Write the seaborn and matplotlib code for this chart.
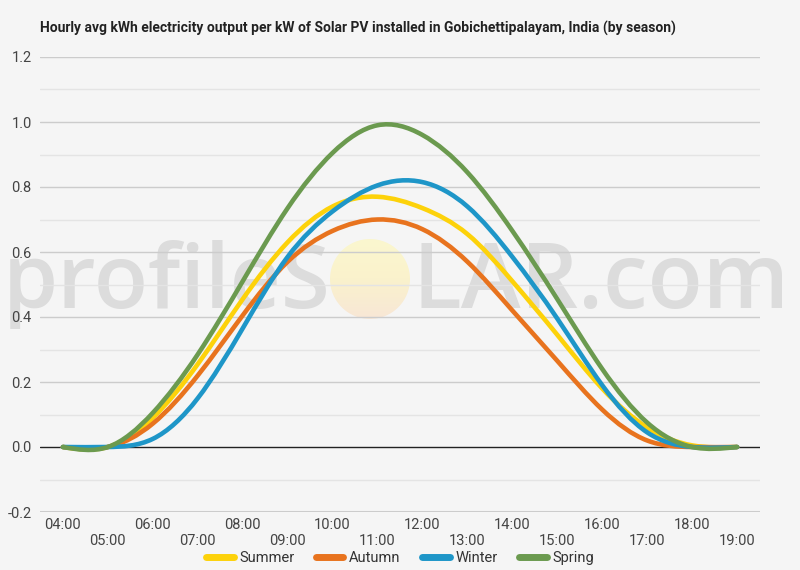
import numpy as np
import pandas as pd
import matplotlib
matplotlib.use("Agg")
import matplotlib.pyplot as plt
import seaborn as sns
from matplotlib.path import Path
from matplotlib.patches import PathPatch, Ellipse
from matplotlib.lines import Line2D
from matplotlib.colors import LinearSegmentedColormap

# ---------------- data ----------------
hours = list(range(4, 20))
hour_labels = ["04:00", "05:00", "06:00", "07:00", "08:00", "09:00", "10:00", "11:00",
               "12:00", "13:00", "14:00", "15:00", "16:00", "17:00", "18:00", "19:00"]
seasons = ["Summer", "Autumn", "Winter", "Spring"]
summer = [0.0, 0.0, 0.09, 0.255, 0.455, 0.63, 0.74, 0.77, 0.735, 0.655, 0.51, 0.345, 0.18, 0.06, 0.005, 0.0]
autumn = [0.0, 0.0, 0.072, 0.22, 0.405, 0.57, 0.665, 0.70, 0.67, 0.57, 0.42, 0.265, 0.115, 0.02, 0.0, 0.0]
winter = [0.0, 0.0, 0.025, 0.15, 0.365, 0.585, 0.725, 0.805, 0.815, 0.74, 0.585, 0.395, 0.19, 0.045, 0.0, 0.0]
spring = [0.0, 0.0, 0.105, 0.285, 0.51, 0.735, 0.905, 0.99, 0.96, 0.845, 0.665, 0.455, 0.24, 0.075, 0.0, 0.0]
colors = ["#fdd20a", "#e8731e", "#1e96c8", "#6b9a4f"]
title = "Hourly avg kWh electricity output per kW of Solar PV installed in Gobichettipalayam, India (by season)"

df = pd.DataFrame({"hour": hours * 4,
                   "value": summer + autumn + winter + spring,
                   "season": sum([[s] * len(hours) for s in seasons], [])})

# ---------------- style ----------------
sns.set_theme(style="white")
plt.rcParams["font.family"] = ["Roboto", "DejaVu Sans"]
BG = "#f5f5f5"
palette = sns.color_palette(colors)

fig = plt.figure(figsize=(8.0, 5.7), dpi=100, facecolor=BG)
ax = fig.add_axes([40 / 800, 1 - 512 / 570, 720 / 800, 455 / 570])
ax.set_facecolor(BG)


def spline_patch(xs, ys, color):
    """Smooth path through the data points (natural cubic spline as Bezier segments)."""
    x = np.asarray(xs, float)
    y = np.asarray(ys, float)
    n = len(x)
    h = np.diff(x)
    A = np.zeros((n, n))
    b = np.zeros(n)
    A[0, 0] = A[-1, -1] = 1.0
    for i in range(1, n - 1):
        A[i, i - 1] = h[i - 1]
        A[i, i] = 2 * (h[i - 1] + h[i])
        A[i, i + 1] = h[i]
        b[i] = 6 * ((y[i + 1] - y[i]) / h[i] - (y[i] - y[i - 1]) / h[i - 1])
    M = np.linalg.solve(A, b)
    m = np.zeros(n)
    for i in range(n - 1):
        m[i] = (y[i + 1] - y[i]) / h[i] - h[i] * (2 * M[i] + M[i + 1]) / 6
    m[-1] = (y[-1] - y[-2]) / h[-1] + h[-1] * (M[-2] + 2 * M[-1]) / 6
    verts = [(x[0], y[0])]
    codes = [Path.MOVETO]
    for i in range(n - 1):
        verts += [(x[i] + h[i] / 3, y[i] + m[i] * h[i] / 3),
                  (x[i + 1] - h[i] / 3, y[i + 1] - m[i + 1] * h[i] / 3),
                  (x[i + 1], y[i + 1])]
        codes += [Path.CURVE4] * 3
    return PathPatch(Path(verts, codes), fill=False, edgecolor=color, lw=3.3,
                     capstyle="round", joinstyle="round", zorder=3)


for s, c in zip(seasons, palette):
    sub = df[df["season"] == s]
    ax.add_patch(spline_patch(sub["hour"], sub["value"], c))

XL = (3.49, 19.51)
YL = (-0.2, 1.2)
ax.set_xlim(*XL)
ax.set_ylim(*YL)

# grid
for k in range(-1, 13):
    v = k / 10
    if k == 0:
        continue
    ax.axhline(v, color="#cccccc" if k % 2 == 0 else "#e4e4e4", lw=1.0, zorder=1)
ax.axhline(-0.2, color="#cccccc", lw=1.5, zorder=1)
ax.axhline(0, color="#222222", lw=1.0, zorder=2)

# ticks
ax.set_yticks([-0.2, 0.0, 0.2, 0.4, 0.6, 0.8, 1.0, 1.2])
ax.set_yticklabels(["-0.2", "0.0", "0.2", "0.4", "0.6", "0.8", "1.0", "1.2"])
ax.set_xticks(hours)
ax.set_xticklabels([lab if i % 2 == 0 else "\n" + lab for i, lab in enumerate(hour_labels)],
                   linespacing=1.25)
ax.tick_params(axis="both", length=0, labelsize=10.5, labelcolor="#444444")
ax.tick_params(axis="y", pad=6)
ax.tick_params(axis="x", pad=4)
for sp in ax.spines.values():
    sp.set_visible(False)

# watermark
wm_color = "#dcdcdc"
ax.text((331 - 40) / 720, (512 - 308) / 455, "profileS", transform=ax.transAxes,
        ha="right", va="baseline", fontsize=64, family="Open Sans", fontweight="semibold",
        color=wm_color, zorder=0.2, clip_on=False)
ax.text((412 - 40) / 720, (512 - 308) / 455, "LAR.com", transform=ax.transAxes,
        ha="left", va="baseline", fontsize=65, family="Open Sans", fontweight="semibold",
        color=wm_color, zorder=0.2, clip_on=False)
cx, cy = (370 - 40) / 720, (512 - 279) / 455
rw, rh = 80 / 720, 80 / 455
sun = Ellipse((cx, cy), rw, rh, transform=ax.transAxes, facecolor="none", edgecolor="none")
ax.add_patch(sun)
sun_cmap = LinearSegmentedColormap.from_list("sun", ["#fbf7cf", "#faf2cc", "#f8e7d6"])
ax.imshow(np.linspace(0, 1, 64).reshape(-1, 1), cmap=sun_cmap, aspect="auto",
          extent=(cx - rw / 2, cx + rw / 2, cy - rh / 2, cy + rh / 2), origin="upper",
          transform=ax.transAxes, clip_path=sun, zorder=0.3, interpolation="bilinear")
ax.set_xlim(*XL)
ax.set_ylim(*YL)

# title
fig.text(40 / 800, 1 - 28 / 570, title, ha="left", va="center", fontsize=10.0,
         fontweight="bold", color="#222222", family=["Roboto", "DejaVu Sans"])

# legend
handles = [Line2D([0], [0], color=c, lw=5) for c in palette]
fig.legend(handles, seasons, loc="center", bbox_to_anchor=(0.5, 1 - 558 / 570), ncol=4,
           frameon=False, fontsize=10.5, handlelength=1.9, columnspacing=1.45,
           handletextpad=0.4, labelcolor="#333333")

fig.savefig("out.png", dpi=100, facecolor=BG)
